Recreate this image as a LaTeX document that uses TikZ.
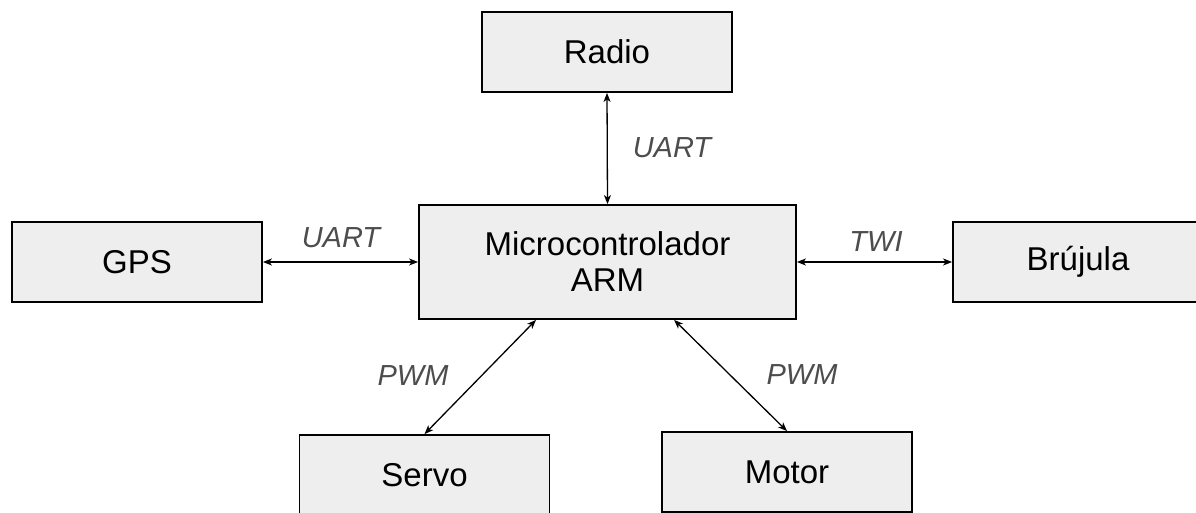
\documentclass[tikz,border=0pt]{standalone}
\usepackage{fontspec}
\setmainfont{Liberation Sans}
\usetikzlibrary{arrows.meta}
\definecolor{boxfill}{RGB}{238,238,238}
\definecolor{lblgray}{RGB}{77,77,77}
\begin{document}
\begin{tikzpicture}[x=1pt,y=1pt,
  blk/.style={draw=black, line width=1.8pt, fill=boxfill, minimum width=250pt, minimum height=80pt, inner sep=0pt, font=\fontsize{33}{36}\selectfont, align=center},
  conn/.style={line width=1.3pt, {Stealth[length=9pt,width=7pt,inset=2.5pt]}-{Stealth[length=9pt,width=7pt,inset=2.5pt]}},
  lbl/.style={text=lblgray, font=\fontsize{29}{32}\selectfont\itshape, inner sep=0pt}]
\useasboundingbox (0,0) rectangle (1196,513);
\node[blk] (radio) at (607,461) {Radio};
\node[blk] (gps) at (137,251) {GPS};
\node[blk, minimum width=377pt, minimum height=114pt] (micro) at (607.5,251) {Microcontrolador\\ARM};
\node[blk] (bru) at (1078,251) {Brújula};
\node[blk] (servo) at (424.5,38) {Servo};
\node[blk] (motor) at (787,41) {Motor};
\draw[conn] (radio.south) -- (micro.north);
\draw[conn] (gps.east) -- (micro.west);
\draw[conn] (micro.east) -- (bru.west);
\draw[conn] (micro.219.4) -- (servo.north);
\draw[conn] (micro.319.3) -- (motor.north);
\node[lbl] (l1) at (672,365) {UART};
\node[lbl] (l2) at (341,275) {UART};
\node[lbl] (l3) at (876,271) {TWI};
\node[lbl] (l4) at (413,137) {PWM};
\node[lbl] (l5) at (802,138) {PWM};
\end{tikzpicture}
\end{document}
